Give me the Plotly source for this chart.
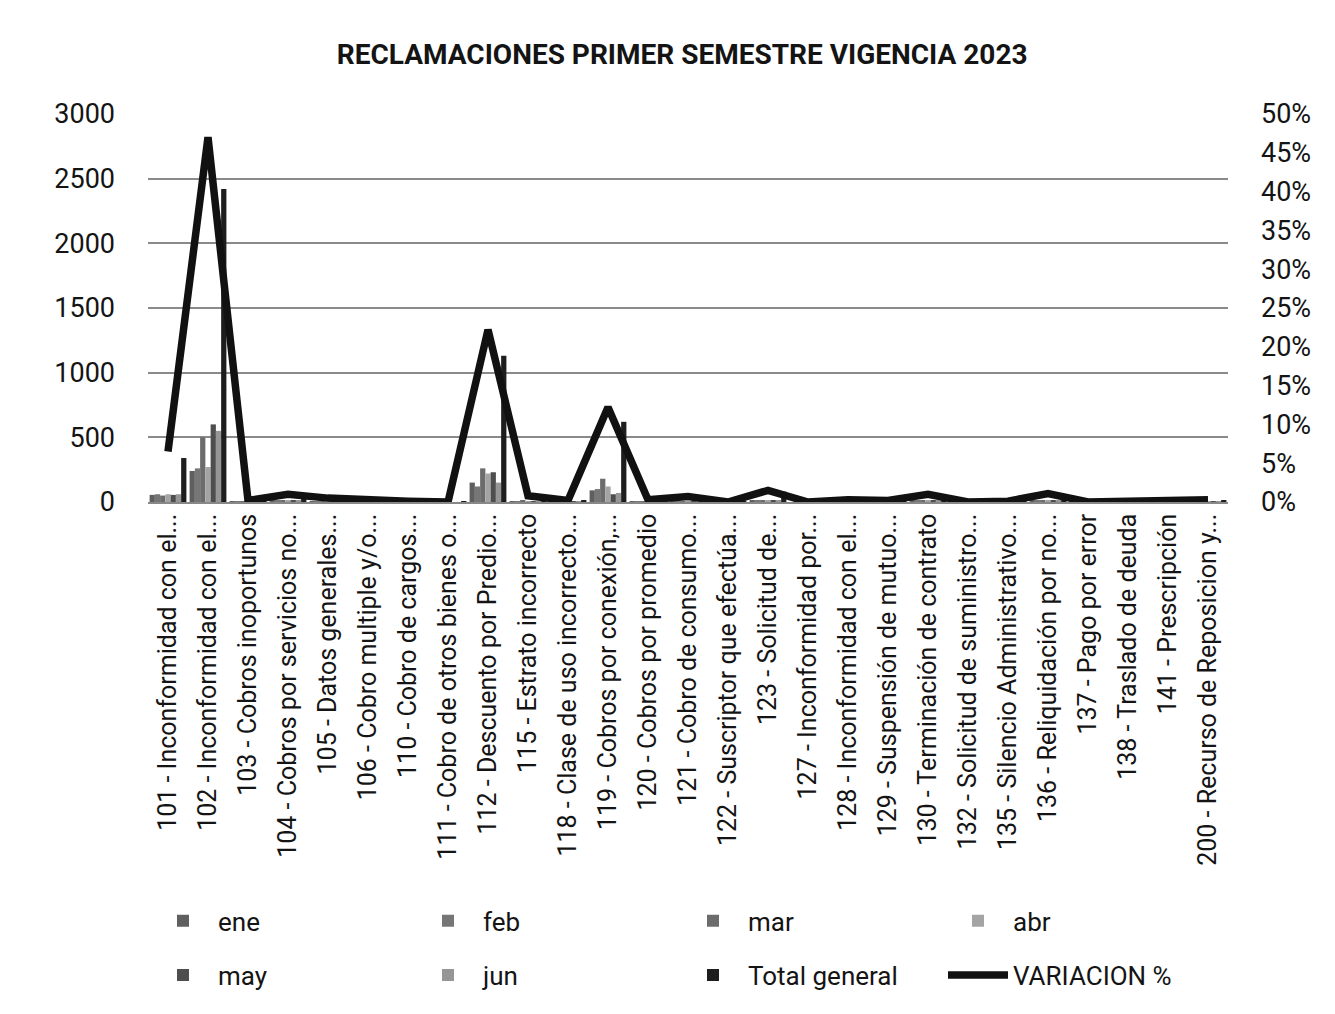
import plotly.graph_objects as go

categorias = [
    "101 - Inconformidad con el...", "102 - Inconformidad con el...", "103 - Cobros inoportunos",
    "104 - Cobros por servicios no...", "105 - Datos generales...", "106 - Cobro multiple y/o...",
    "110 - Cobro de cargos...", "111 - Cobro de otros bienes o...", "112 - Descuento por Predio...",
    "115 - Estrato incorrecto", "118 - Clase de uso incorrecto...", "119 - Cobros por conexión,...",
    "120 - Cobros por promedio", "121 - Cobro de consumo...", "122 - Suscriptor que efectúa...",
    "123 - Solicitud de...", "127 - Inconformidad por...", "128 - Inconformidad con el...",
    "129 - Suspensión de mutuo...", "130 - Terminación de contrato", "132 - Solicitud de suministro...",
    "135 - Silencio Administrativo...", "136 - Reliquidación por no...", "137 - Pago por error",
    "138 - Traslado de deuda", "141 - Prescripción", "200 - Recurso de Reposicion y...",
]

ene = [55, 240, 2, 8, 4, 2, 1, 0, 150, 7, 2, 90, 3, 7, 0, 14, 0, 3, 2, 9, 0, 1, 10, 0, 1, 2, 3]
feb = [60, 260, 1, 10, 5, 1, 1, 1, 120, 6, 2, 100, 2, 6, 0, 13, 0, 3, 1, 8, 0, 0, 9, 0, 1, 3, 2]
mar = [50, 500, 2, 9, 4, 2, 1, 0, 260, 8, 1, 180, 3, 7, 1, 15, 0, 2, 2, 10, 1, 1, 11, 0, 0, 2, 3]
abr = [60, 270, 1, 8, 3, 2, 1, 1, 220, 6, 2, 120, 2, 6, 0, 12, 1, 3, 1, 8, 0, 1, 9, 0, 1, 3, 2]
may = [55, 600, 1, 10, 5, 1, 2, 0, 230, 7, 2, 60, 3, 6, 0, 14, 0, 3, 2, 9, 0, 0, 10, 1, 1, 2, 3]
jun = [60, 550, 2, 9, 4, 2, 1, 0, 150, 6, 1, 70, 2, 7, 0, 12, 0, 2, 1, 8, 0, 1, 9, 0, 0, 3, 2]
total_general = [340, 2420, 9, 54, 25, 10, 7, 2, 1130, 40, 10, 620, 15, 39, 1, 80, 1, 16, 9, 52, 1, 4, 58, 1, 4, 15, 15]
variacion = [0.065, 0.47, 0.002, 0.010, 0.005, 0.002, 0.001, 0.000, 0.222, 0.008, 0.002, 0.122,
             0.003, 0.007, 0.000, 0.015, 0.000, 0.003, 0.002, 0.010, 0.000, 0.001, 0.011, 0.000,
             0.001, 0.003, 0.003]

series = [
    ("ene", ene, "#5f5f5f", "legend"),
    ("feb", feb, "#767676", "legend"),
    ("mar", mar, "#6c6c6c", "legend"),
    ("abr", abr, "#a4a4a4", "legend"),
    ("may", may, "#4e4e4e", "legend2"),
    ("jun", jun, "#969696", "legend2"),
    ("Total general", total_general, "#1e1e1e", "legend2"),
]

FONT = "Roboto, Arial"
TXT = "#141414"

fig = go.Figure()
for name, vals, col, lg in series:
    fig.add_trace(go.Bar(x=categorias, y=vals, name=name, marker_color=col,
                         marker_line_width=0, legend=lg))
fig.add_trace(go.Scatter(x=categorias, y=variacion, name="VARIACION %", yaxis="y2",
                         mode="lines", line=dict(color="#111111", width=7.5), legend="legend2"))

legend_common = dict(orientation="h", xanchor="left", yanchor="top",
                     entrywidth=190, entrywidthmode="pixels",
                     font=dict(size=26, color=TXT), traceorder="normal",
                     itemwidth=60, bgcolor="rgba(0,0,0,0)")

fig.update_layout(
    width=1335, height=1014,
    paper_bgcolor="white", plot_bgcolor="white",
    barmode="group", bargap=0.08, bargroupgap=0.0,
    margin=dict(l=140, r=115, t=106, b=520, autoexpand=False),
    title=dict(text="<b>RECLAMACIONES PRIMER SEMESTRE VIGENCIA 2023</b>",
               x=0.505, xanchor="center", y=0.954, yanchor="middle",
               font=dict(family=FONT, size=28, color=TXT)),
    font=dict(family=FONT, color=TXT),
    xaxis=dict(type="category", tickangle=-90, tickfont=dict(size=25, color=TXT),
               showgrid=False, showline=True, linecolor="#888", linewidth=1.5,
               ticks="", automargin=False),
    yaxis=dict(range=[0, 3000], dtick=500, tickfont=dict(size=27, color=TXT),
               showgrid=True, gridcolor="#8a8a8a", gridwidth=1.5, zeroline=False,
               showline=False, ticks="", ticklabelstandoff=32),
    yaxis2=dict(range=[0, 0.5], dtick=0.05, tickformat=".0%", overlaying="y", side="right",
                showgrid=False, zeroline=False, showline=False, ticks="",
                tickfont=dict(size=27, color=TXT), ticklabelstandoff=32),
    legend=dict(x=0.0, y=-1.019, **legend_common),
    legend2=dict(x=0.0, y=-1.159, **legend_common),
    showlegend=True,
)

fig.write_html("out.html")
